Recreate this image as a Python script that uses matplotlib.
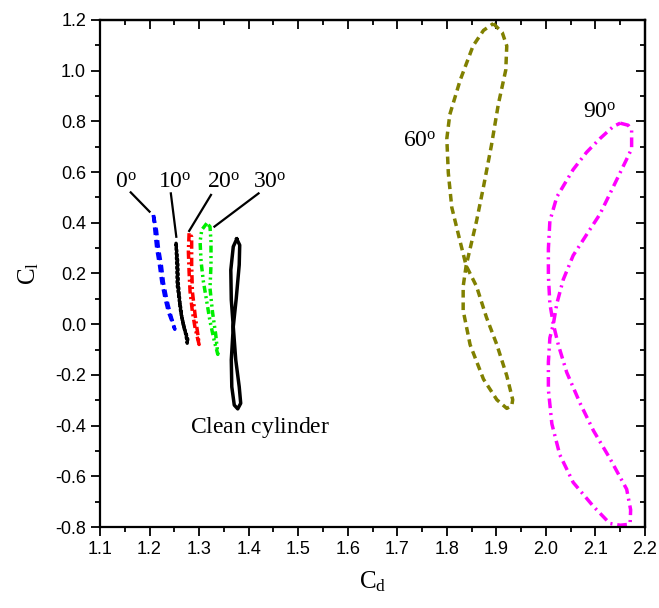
import matplotlib
matplotlib.use('Agg')
import matplotlib.pyplot as plt
from matplotlib.ticker import MultipleLocator, FormatStrFormatter

plt.rcParams['font.family'] = ['Liberation Sans', 'DejaVu Sans']
plt.rcParams['mathtext.fontset'] = 'custom'
plt.rcParams['mathtext.rm'] = 'Liberation Serif'
plt.rcParams['mathtext.it'] = 'Liberation Serif:italic'
plt.rcParams['axes.unicode_minus'] = False
plt.rcParams['lines.scale_dashes'] = False

# Cd / Cl loops (closed paths)
clean_cd = [1.376, 1.382, 1.381, 1.375, 1.369, 1.365, 1.366, 1.371, 1.378, 1.384,
            1.381, 1.374, 1.369, 1.365, 1.364, 1.369, 1.376]
clean_cl = [0.336, 0.312, 0.234, 0.102, -0.010, -0.141, -0.247, -0.319, -0.334, -0.312,
            -0.247, -0.141, -0.010, 0.096, 0.214, 0.306, 0.336]

cd_0 = [1.2077, 1.211, 1.2145, 1.220, 1.2246, 1.2313, 1.238, 1.248,
        1.251, 1.242, 1.235, 1.228, 1.224, 1.218, 1.214, 1.2077]
cl_0 = [0.431, 0.365, 0.299, 0.234, 0.168, 0.102, 0.049, -0.003,
        -0.020, 0.040, 0.095, 0.165, 0.230, 0.300, 0.370, 0.431]

cd_10 = [1.2535, 1.255, 1.256, 1.2596, 1.263, 1.268, 1.2737, 1.276,
         1.277, 1.271, 1.265, 1.261, 1.258, 1.257, 1.2535]
cl_10 = [0.319, 0.234, 0.155, 0.102, 0.049, -0.003, -0.043, -0.075,
         -0.060, -0.020, 0.030, 0.090, 0.160, 0.240, 0.319]

cd_20 = [1.2798, 1.2784, 1.2798, 1.2818, 1.2865, 1.292, 1.2986,
         1.300, 1.2986, 1.292, 1.2865, 1.285, 1.285, 1.2798]
cl_20 = [0.359, 0.286, 0.207, 0.128, 0.049, -0.016, -0.069,
         -0.080, -0.056, 0.036, 0.128, 0.234, 0.345, 0.359]

cd_30 = [1.3155, 1.3054, 1.302, 1.304, 1.3087, 1.3155, 1.3222, 1.331, 1.3378,
         1.3337, 1.327, 1.322, 1.324, 1.324, 1.322, 1.3155]
cl_30 = [0.398, 0.372, 0.326, 0.247, 0.168, 0.089, 0.010, -0.069, -0.119,
         -0.043, 0.049, 0.142, 0.234, 0.326, 0.385, 0.398]

cd_60 = [1.894, 1.912, 1.921, 1.919, 1.904, 1.890, 1.874, 1.860, 1.847, 1.839,
         1.833, 1.833, 1.847, 1.874, 1.901, 1.921, 1.931, 1.933, 1.921, 1.901,
         1.880, 1.860, 1.839, 1.827, 1.810, 1.803, 1.800, 1.806, 1.827, 1.853,
         1.874, 1.894]
cl_60 = [1.186, 1.150, 1.098, 1.003, 0.868, 0.705, 0.542, 0.407, 0.298, 0.231,
         0.149, 0.054, -0.081, -0.217, -0.298, -0.332, -0.322, -0.298, -0.203, -0.081,
         0.027, 0.149, 0.231, 0.325, 0.461, 0.597, 0.732, 0.827, 0.963, 1.098,
         1.159, 1.186]

cd_90 = [2.150, 2.166, 2.173, 2.173, 2.163, 2.136, 2.109, 2.082, 2.055, 2.035,
         2.022, 2.015, 2.008, 2.005, 2.005, 2.012, 2.028, 2.055, 2.096, 2.129,
         2.150, 2.165, 2.170, 2.171, 2.163, 2.129, 2.096, 2.069, 2.042, 2.025,
         2.015, 2.008, 2.005, 2.005, 2.008, 2.022, 2.055, 2.082, 2.109, 2.136, 2.150]
cl_90 = [0.793, 0.785, 0.766, 0.692, 0.651, 0.542, 0.434, 0.353, 0.271, 0.176,
         0.081, 0.000, -0.054, -0.149, -0.258, -0.393, -0.515, -0.624, -0.719, -0.786,
         -0.793, -0.790, -0.786, -0.732, -0.651, -0.529, -0.420, -0.312, -0.190, -0.081,
         0.000, 0.081, 0.190, 0.298, 0.407, 0.502, 0.610, 0.678, 0.732, 0.780, 0.793]

fig = plt.figure(figsize=(6.59, 6.08), dpi=100)
ax = fig.add_axes([100 / 659, 81 / 608, 545 / 659, 507 / 608])

lw = 2.5
ax.plot(clean_cd, clean_cl, color='black', lw=lw, solid_joinstyle='round')
ax.plot(cd_0, cl_0, color='#0000ff', lw=lw, linestyle=(0, (5.5, 3.5)))
ax.plot(cd_10, cl_10, color='black', lw=lw, linestyle=(0, (1.2, 2.2)), dash_capstyle='round')
ax.plot(cd_20, cl_20, color='#ff0000', lw=lw, linestyle=(0, (6, 2.5, 1.5, 2.5)))
ax.plot(cd_30, cl_30, color='#00ee00', lw=lw, linestyle=(0, (5, 2.5, 1.5, 2.5, 1.5, 2.5)))
ax.plot(cd_60, cl_60, color='#808000', lw=lw, linestyle=(0, (5.5, 3.5)))
ax.plot(cd_90, cl_90, color='#ff00ff', lw=lw, linestyle=(0, (7, 3.5, 1.5, 3.5)))

# labels and leader lines
tfont = dict(fontsize=17, ha='center', va='center')
ax.text(1.152, 0.561, r'$\mathrm{0^o}$', **tfont)
ax.text(1.250, 0.561, r'$\mathrm{10^o}$', **tfont)
ax.text(1.349, 0.561, r'$\mathrm{20^o}$', **tfont)
ax.text(1.443, 0.561, r'$\mathrm{30^o}$', **tfont)
ax.text(1.746, 0.723, r'$\mathrm{60^o}$', **tfont)
ax.text(2.108, 0.837, r'$\mathrm{90^o}$', **tfont)
ax.text(1.423, -0.409, r'$\mathrm{Clean\ cylinder}$', **tfont)

leaders = [((1.162, 0.520), (1.200, 0.444)),
           ((1.243, 0.516), (1.254, 0.345)),
           ((1.324, 0.510), (1.280, 0.368)),
           ((1.420, 0.516), (1.331, 0.385))]
for (x0, y0), (x1, y1) in leaders:
    ax.plot([x0, x1], [y0, y1], color='black', lw=1.6)

ax.set_xlim(1.1, 2.2)
ax.set_ylim(-0.8, 1.2)
ax.xaxis.set_major_locator(MultipleLocator(0.1))
ax.xaxis.set_minor_locator(MultipleLocator(0.05))
ax.yaxis.set_major_locator(MultipleLocator(0.2))
ax.yaxis.set_minor_locator(MultipleLocator(0.1))
ax.xaxis.set_major_formatter(FormatStrFormatter('%.1f'))
ax.yaxis.set_major_formatter(FormatStrFormatter('%.1f'))
ax.tick_params(which='both', direction='out', width=1.3, labelsize=13)
ax.tick_params(which='major', length=6.5)
ax.tick_params(which='minor', length=3.5)
for s in ax.spines.values():
    s.set_linewidth(1.6)

# mirrored ticks pointing inward on top and right
top = ax.secondary_xaxis('top')
top.xaxis.set_major_locator(MultipleLocator(0.1))
top.xaxis.set_minor_locator(MultipleLocator(0.05))
top.tick_params(which='both', direction='in', width=1.3, labeltop=False)
top.tick_params(which='major', length=6.5)
top.tick_params(which='minor', length=3.5)
top.spines['top'].set_linewidth(1.6)
right = ax.secondary_yaxis('right')
right.yaxis.set_major_locator(MultipleLocator(0.2))
right.yaxis.set_minor_locator(MultipleLocator(0.1))
right.tick_params(which='both', direction='in', width=1.3, labelright=False)
right.tick_params(which='major', length=6.5)
right.tick_params(which='minor', length=3.5)
right.spines['right'].set_linewidth(1.6)

ax.set_xlabel(r'$\mathrm{C_d}$', fontsize=18, labelpad=8)
ax.set_ylabel(r'$\mathrm{C_l}$', fontsize=18, labelpad=10)

fig.savefig('out.png', dpi=100)
